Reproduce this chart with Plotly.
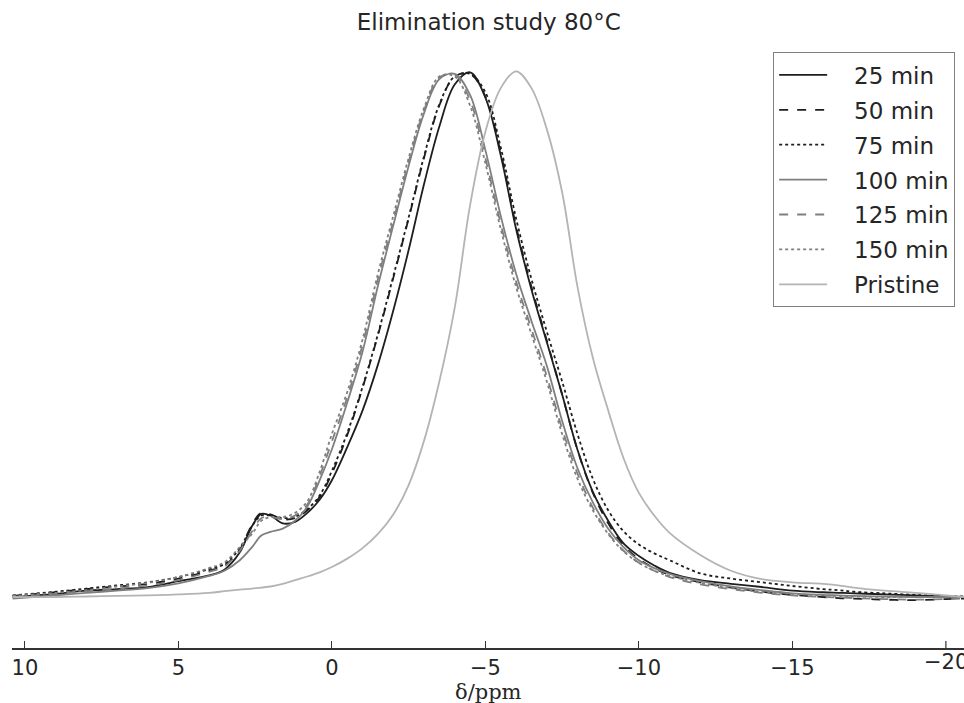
import plotly.graph_objects as go

# Chemical shift grid (ppm)
ppm = [10.4, 9, 8, 7, 6, 5, 4, 3.5, 3, 2.6, 2.3, 2.0, 1.6, 1.2, 0.8, 0.4, 0,
       -0.5, -1, -1.5, -2, -2.5, -3, -3.5, -4, -4.5, -5, -5.5, -6, -6.5, -7,
       -7.5, -8, -8.5, -9, -9.5, -10, -10.5, -11, -12, -13, -14, -15, -16,
       -16.5, -17, -18, -19, -20, -20.6]

min25 = [0.000, 0.006, 0.012, 0.015, 0.019, 0.030, 0.041, 0.052, 0.085, 0.135,
         0.158, 0.155, 0.140, 0.143, 0.160, 0.185, 0.222, 0.285, 0.355, 0.442,
         0.545, 0.660, 0.785, 0.895, 0.975, 0.998, 0.950, 0.840, 0.700, 0.585,
         0.485, 0.385, 0.280, 0.200, 0.145, 0.102, 0.078, 0.060, 0.046, 0.032,
         0.025, 0.019, 0.012, 0.009, 0.008, 0.007, 0.005, 0.003, 0.001, 0.000]

min50 = [0.002, 0.009, 0.015, 0.020, 0.025, 0.035, 0.050, 0.060, 0.090, 0.138,
         0.160, 0.157, 0.148, 0.150, 0.165, 0.190, 0.235, 0.308, 0.398, 0.498,
         0.607, 0.720, 0.835, 0.935, 0.990, 0.995, 0.952, 0.845, 0.705, 0.590,
         0.488, 0.385, 0.280, 0.198, 0.140, 0.098, 0.072, 0.055, 0.042, 0.028,
         0.018, 0.010, 0.004, 0.000, -0.002, -0.003, -0.005, -0.006, -0.004, -0.003]

min75 = [0.003, 0.010, 0.016, 0.022, 0.028, 0.038, 0.053, 0.063, 0.093, 0.135,
         0.155, 0.155, 0.150, 0.153, 0.167, 0.193, 0.240, 0.312, 0.400, 0.500,
         0.610, 0.722, 0.838, 0.937, 0.990, 0.995, 0.960, 0.855, 0.720, 0.605,
         0.505, 0.410, 0.310, 0.225, 0.165, 0.125, 0.100, 0.083, 0.070, 0.045,
         0.035, 0.028, 0.021, 0.015, 0.013, 0.010, 0.007, 0.004, 0.002, 0.001]

min100 = [-0.003, 0.003, 0.008, 0.012, 0.017, 0.026, 0.040, 0.050, 0.070, 0.095,
          0.117, 0.124, 0.130, 0.145, 0.172, 0.222, 0.281, 0.370, 0.467, 0.592,
          0.707, 0.820, 0.920, 0.985, 0.995, 0.955, 0.850, 0.725, 0.615, 0.525,
          0.440, 0.335, 0.245, 0.180, 0.130, 0.095, 0.070, 0.055, 0.044, 0.030,
          0.020, 0.013, 0.007, 0.004, 0.003, 0.002, 0.001, 0.000, 0.000, 0.000]

min125 = [0.000, 0.006, 0.011, 0.016, 0.022, 0.032, 0.048, 0.058, 0.088, 0.125,
          0.150, 0.152, 0.148, 0.155, 0.176, 0.230, 0.296, 0.380, 0.480, 0.605,
          0.715, 0.828, 0.925, 0.988, 0.993, 0.945, 0.835, 0.710, 0.600, 0.510,
          0.420, 0.320, 0.235, 0.170, 0.122, 0.088, 0.065, 0.050, 0.038, 0.024,
          0.015, 0.008, 0.003, 0.000, -0.001, -0.002, -0.004, -0.005, -0.004, -0.003]

min150 = [0.002, 0.008, 0.013, 0.020, 0.027, 0.038, 0.055, 0.066, 0.095, 0.120,
          0.145, 0.152, 0.152, 0.160, 0.182, 0.238, 0.310, 0.390, 0.490, 0.615,
          0.725, 0.835, 0.930, 0.990, 0.990, 0.935, 0.825, 0.700, 0.590, 0.500,
          0.410, 0.310, 0.225, 0.165, 0.120, 0.087, 0.065, 0.050, 0.040, 0.027,
          0.017, 0.010, 0.006, 0.003, 0.002, 0.001, 0.000, 0.000, 0.000, 0.000]

pristine = [0.000, 0.000, 0.001, 0.002, 0.003, 0.005, 0.008, 0.011, 0.014, 0.016,
            0.018, 0.020, 0.025, 0.032, 0.039, 0.047, 0.057, 0.073, 0.093, 0.120,
            0.157, 0.213, 0.297, 0.410, 0.550, 0.745, 0.885, 0.968, 1.000, 0.968,
            0.890, 0.770, 0.590, 0.455, 0.355, 0.264, 0.198, 0.155, 0.122, 0.080,
            0.050, 0.034, 0.028, 0.025, 0.022, 0.018, 0.012, 0.008, 0.003, 0.000]

series_names = ["25 min", "50 min", "75 min", "100 min", "125 min", "150 min", "Pristine"]
series_values = [min25, min50, min75, min100, min125, min150, pristine]
series_colors = ["#1e1e1e", "#1e1e1e", "#1e1e1e", "#7f7f7f", "#7f7f7f", "#7f7f7f", "#b4b4b4"]
series_dash = ["solid", "dash", "dot", "solid", "dash", "dot", "solid"]

x_ticks = [10, 5, 0, -5, -10, -15, -20]

fig = go.Figure()
for i, (name, vals, col, dash) in enumerate(zip(series_names, series_values, series_colors, series_dash)):
    fig.add_trace(go.Scatter(
        x=ppm, y=vals, mode="lines", name="\u00a0\u00a0\u00a0" + name, legendgroup=str(i),
        line=dict(color=col, width=1.8, dash=dash, shape="spline", smoothing=1.0),
    ))

# the last tick label is cut by the figure edge, as in the original
fig.add_annotation(x=x_ticks[-1], y=-0.024, xref="x", yref="paper", text="\u221220",
                   showarrow=False, xanchor="center", yanchor="middle",
                   font=dict(family="DejaVu Sans", size=21, color="#262626"))
# x-axis label
fig.add_annotation(x=0.5, y=-(679 - 648) / 603, xref="paper", yref="paper", text="δ/ppm",
                   showarrow=False, xanchor="center", yanchor="top", borderpad=0,
                   font=dict(family="DejaVu Serif", size=21, color="#262626"))

fig.update_layout(
    width=964, height=703,
    margin=dict(l=12, r=0, t=45, b=55),
    plot_bgcolor="white", paper_bgcolor="white",
    font=dict(family="DejaVu Sans", color="#262626"),
    title=dict(text="Elimination study 80°C", x=0.507, xanchor="center",
               y=1 - 22 / 703, yanchor="middle", font=dict(size=23, color="#262626")),
    showlegend=True,
    legend=dict(x=0.9905, xanchor="right", y=0.988, yanchor="top",
                bgcolor="white", bordercolor="#808080", borderwidth=1.2,
                font=dict(size=23, color="#262626"), itemwidth=48,
                traceorder="grouped", tracegroupgap=2),
    xaxis=dict(range=[10.42, -20.59], tickvals=x_ticks[:-1], automargin=False,
               showgrid=False, zeroline=False, showline=True, linecolor="#333333",
               linewidth=1.5, ticks="inside", ticklen=7, tickwidth=1.2, tickcolor="#333333",
               tickfont=dict(size=21, color="#262626")),
    yaxis=dict(range=[-0.097, 1.05], visible=False, showgrid=False, zeroline=False),
)
# tick mark at -20 without label
fig.add_shape(type="line", xref="x", yref="paper", x0=x_ticks[-1], x1=x_ticks[-1],
              y0=0, y1=7 / 603, line=dict(color="#333333", width=1.2))

fig.write_html("out.html")
